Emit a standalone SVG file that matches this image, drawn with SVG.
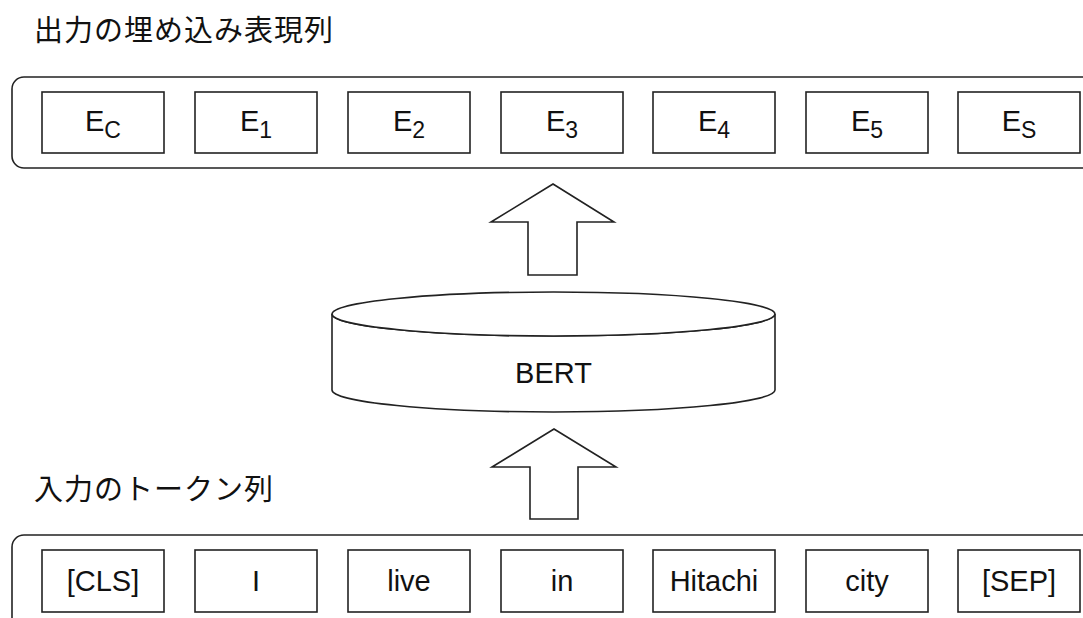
<svg xmlns="http://www.w3.org/2000/svg" width="1083" height="618" viewBox="0 0 1083 618">
<style>
.frame{fill:#fff;stroke:#222;stroke-width:1.6}
.box{fill:#fff;stroke:#222;stroke-width:1.6}
.lbl{font-family:"Liberation Sans",Arial,sans-serif;font-size:29px;fill:#111;text-anchor:middle}
.sub{font-size:23px}
.jp{font-family:"Noto Sans CJK JP","Noto Sans",sans-serif;font-size:29px;fill:#111;letter-spacing:1px}
.shape{fill:#fff;stroke:#222;stroke-width:1.6;stroke-linejoin:miter}
</style>
<rect width="1083" height="618" fill="#fff"/>
<g id="title-out"><text class="jp" x="34" y="41">出力の埋め込み表現列</text></g>
<g id="title-in"><text class="jp" x="34" y="500">入力のトークン列</text></g>
<g id="output-row">
<rect class="frame" x="12" y="77" width="1090" height="91" rx="12"/>
<g id="e-c"><rect class="box" x="42" y="92" width="122" height="61"/><text class="lbl" x="103" y="131">E<tspan class="sub" dy="7">C</tspan></text></g>
<g id="e-1"><rect class="box" x="195" y="92" width="122" height="61"/><text class="lbl" x="256" y="131">E<tspan class="sub" dy="7">1</tspan></text></g>
<g id="e-2"><rect class="box" x="348" y="92" width="122" height="61"/><text class="lbl" x="409" y="131">E<tspan class="sub" dy="7">2</tspan></text></g>
<g id="e-3"><rect class="box" x="501" y="92" width="122" height="61"/><text class="lbl" x="562" y="131">E<tspan class="sub" dy="7">3</tspan></text></g>
<g id="e-4"><rect class="box" x="653" y="92" width="122" height="61"/><text class="lbl" x="714" y="131">E<tspan class="sub" dy="7">4</tspan></text></g>
<g id="e-5"><rect class="box" x="806" y="92" width="122" height="61"/><text class="lbl" x="867" y="131">E<tspan class="sub" dy="7">5</tspan></text></g>
<g id="e-s"><rect class="box" x="958" y="92" width="122" height="61"/><text class="lbl" x="1019" y="131">E<tspan class="sub" dy="7">S</tspan></text></g>
</g>
<g id="bert">
<path class="shape" d="M332,314 A221.5,22 0 0 0 775,314 L775,390 A221.5,22 0 0 1 332,390 Z"/>
<ellipse class="shape" cx="553.5" cy="314" rx="221.5" ry="22"/>
<text class="lbl" x="553.5" y="383">BERT</text>
</g>
<g id="input-row">
<rect class="frame" x="12" y="535" width="1090" height="110" rx="12"/>
<g id="t-cls"><rect class="box" x="42" y="550" width="122" height="62"/><text class="lbl" x="103" y="591">[CLS]</text></g>
<g id="t-i"><rect class="box" x="195" y="550" width="122" height="62"/><text class="lbl" x="256" y="591">I</text></g>
<g id="t-live"><rect class="box" x="348" y="550" width="122" height="62"/><text class="lbl" x="409" y="591">live</text></g>
<g id="t-in"><rect class="box" x="501" y="550" width="122" height="62"/><text class="lbl" x="562" y="591">in</text></g>
<g id="t-hitachi"><rect class="box" x="653" y="550" width="122" height="62"/><text class="lbl" x="714" y="591">Hitachi</text></g>
<g id="t-city"><rect class="box" x="806" y="550" width="122" height="62"/><text class="lbl" x="867" y="591">city</text></g>
<g id="t-sep"><rect class="box" x="958" y="550" width="122" height="62"/><text class="lbl" x="1019" y="591">[SEP]</text></g>
</g>
<g id="connectors">
<polygon class="shape" points="553,184 614,222 577,222 577,275 528,275 528,222 491,222"/>
<polygon class="shape" points="554,429 616,467 578,467 578,519 530,519 530,467 492,467"/>
</g>
</svg>
